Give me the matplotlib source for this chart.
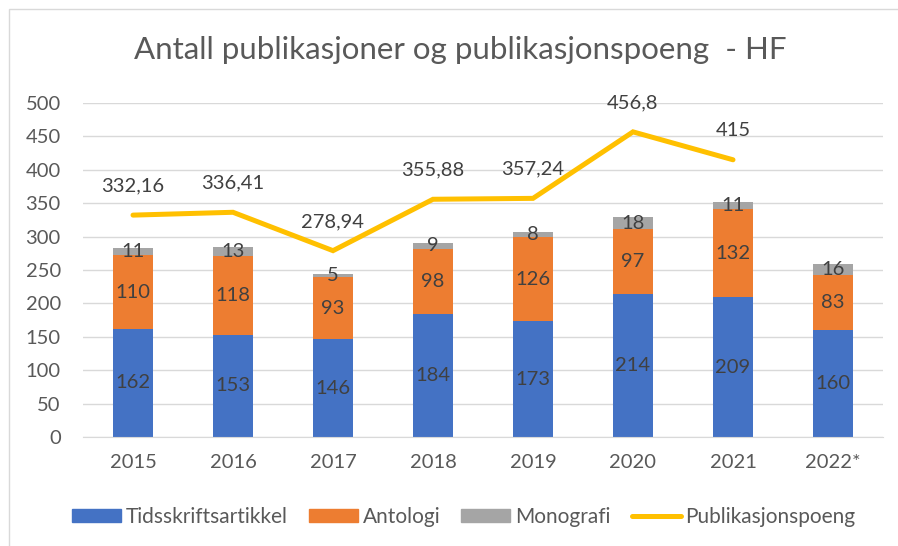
import matplotlib
matplotlib.use("Agg")
import matplotlib.pyplot as plt
import numpy as np
from matplotlib.patches import Rectangle
from matplotlib.lines import Line2D
from matplotlib.patches import Patch

years = ["2015", "2016", "2017", "2018", "2019", "2020", "2021", "2022*"]
tidsskrift = [162, 153, 146, 184, 173, 214, 209, 160]
antologi = [110, 118, 93, 98, 126, 97, 132, 83]
monografi = [11, 13, 5, 9, 8, 18, 11, 16]
poeng = [332.16, 336.41, 278.94, 355.88, 357.24, 456.8, 415]
poeng_labels = ["332,16", "336,41", "278,94", "355,88", "357,24", "456,8", "415"]

plt.rcParams['font.family'] = ['Lato', 'DejaVu Sans']
txt = '#595959'
c_blue, c_orange, c_gray, c_yellow = '#4472C4', '#ED7D31', '#A5A5A5', '#FFC000'

fig = plt.figure(figsize=(8.98, 5.46), dpi=100)
ax = fig.add_axes([83/898, 1-437/546, 800/898, 334/546])

x = np.arange(len(years))
w = 0.4
ax.bar(x, tidsskrift, w, color=c_blue, zorder=2)
ax.bar(x, antologi, w, bottom=tidsskrift, color=c_orange, zorder=2)
bot3 = np.array(tidsskrift) + np.array(antologi)
ax.bar(x, monografi, w, bottom=bot3, color=c_gray, zorder=2)

fs_data = 14.5
fs_tick = 14.5
for i in range(len(years)):
    ax.text(x[i], tidsskrift[i]/2, str(tidsskrift[i]), ha='center', va='center', fontsize=fs_data, color='#404040', zorder=3)
    ax.text(x[i], tidsskrift[i] + antologi[i]/2, str(antologi[i]), ha='center', va='center', fontsize=fs_data, color='#404040', zorder=3)
    ax.text(x[i], bot3[i] + monografi[i]/2, str(monografi[i]), ha='center', va='center', fontsize=fs_data, color='#404040', zorder=3)

xp = x[:len(poeng)]
ax.plot(xp, poeng, color=c_yellow, lw=3.6, solid_capstyle='round', solid_joinstyle='miter', zorder=4)
for i in range(len(poeng)):
    ax.annotate(poeng_labels[i], (xp[i], poeng[i]), xytext=(0, 21), textcoords='offset points',
                ha='center', va='center', fontsize=fs_data, color='#404040', zorder=5)

ax.set_xlim(-0.5, len(years)-0.5)
ax.set_ylim(0, 500)
ax.set_yticks(np.arange(0, 501, 50))
ax.set_xticks(x)
ax.set_xticklabels(years)
ax.tick_params(axis='both', length=0, labelsize=fs_tick, colors=txt)
ax.tick_params(axis='y', pad=16)
ax.tick_params(axis='x', pad=12)
ax.grid(axis='y', color='#D9D9D9', lw=1, zorder=0)
for s in ['top', 'right', 'left']:
    ax.spines[s].set_visible(False)
ax.spines['bottom'].set_color('#D9D9D9')
ax.set_axisbelow(True)

fig.text(460/898, 1-50/546, "Antall publikasjoner og publikasjonspoeng  - HF", ha='center', va='center',
         fontsize=22.5, color=txt)

handles = [Patch(color=c_blue), Patch(color=c_orange), Patch(color=c_gray),
           Line2D([0], [0], color=c_yellow, lw=3.6, solid_capstyle='round')]
labels = ["Tidsskriftsartikkel", "Antologi", "Monografi", "Publikasjonspoeng"]
fig.legend(handles, labels, loc='center', bbox_to_anchor=(464/898, 1-517/546), ncol=4, frameon=False,
           fontsize=15, labelcolor=txt, handlelength=2.35, handleheight=0.53, handletextpad=0.24,
           columnspacing=1.0)

fig.patches.append(Rectangle((9/898, -0.1), 1.2, 1-9/546+0.1, transform=fig.transFigure,
                             fill=False, edgecolor='#D9D9D9', lw=1))

fig.savefig("out.png", dpi=100)
